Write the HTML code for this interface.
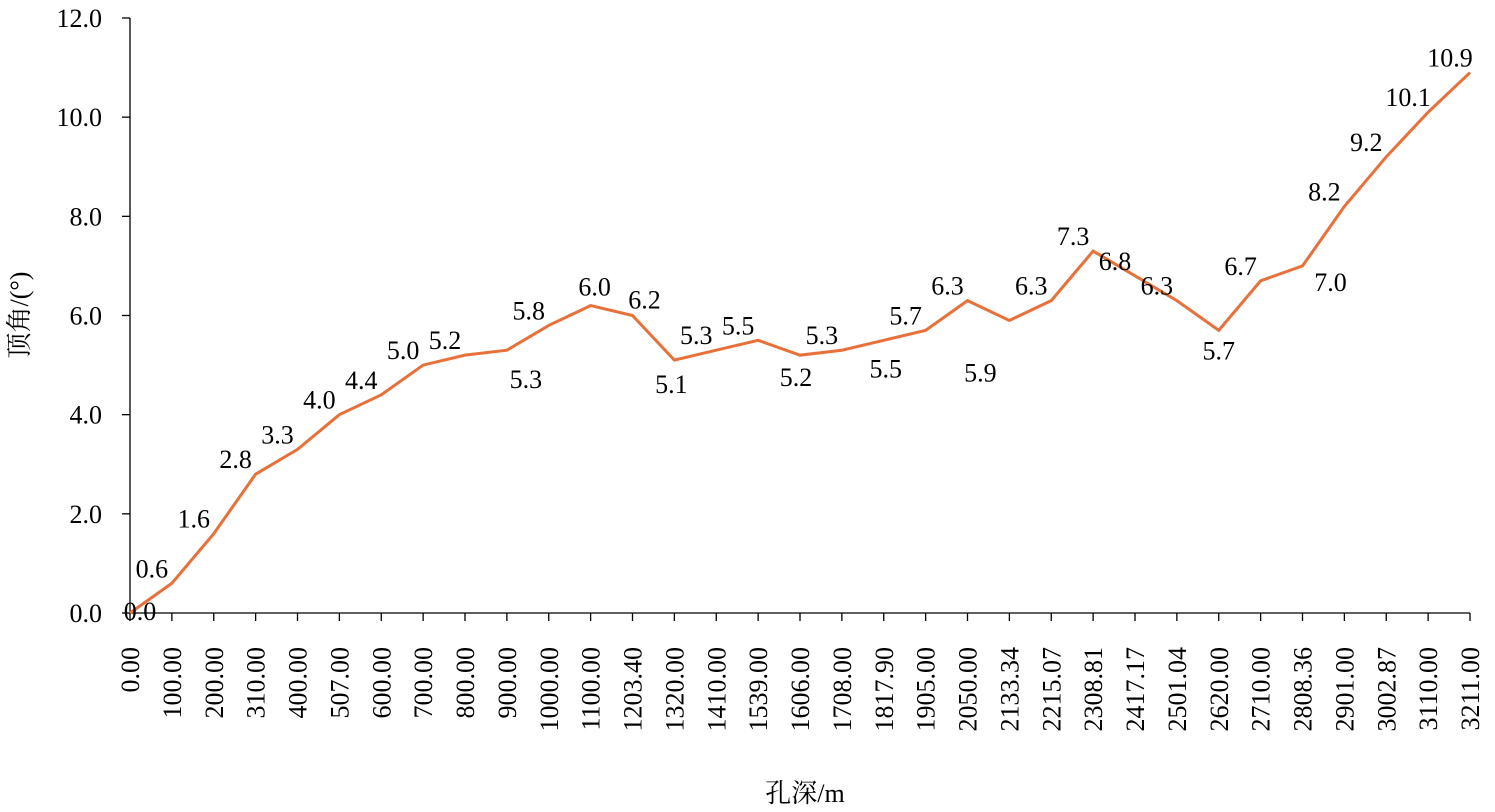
<!DOCTYPE html>
<html><head><meta charset="utf-8"><style>
body{margin:0;background:#fff}
svg{display:block;font-family:"Liberation Serif","Noto Serif CJK SC",serif}
</style></head><body>
<svg id="chart" width="1495" height="812" viewBox="0 0 1495 812">
<g id="axes"></g><g id="marks"></g>
<text x="805" y="802" font-size="26" text-anchor="middle" font-family="Liberation Serif, Noto Serif CJK SC, serif">孔深/m</text>
<text transform="translate(28,315) rotate(-90)" font-size="26" text-anchor="middle" font-family="Liberation Serif, Noto Serif CJK SC, serif">顶角/(°)</text>
</svg>
<script>
const categories=["0.00","100.00","200.00","310.00","400.00","507.00","600.00","700.00","800.00","900.00","1000.00","1100.00","1203.40","1320.00","1410.00","1539.00","1606.00","1708.00","1817.90","1905.00","2050.00","2133.34","2215.07","2308.81","2417.17","2501.04","2620.00","2710.00","2808.36","2901.00","3002.87","3110.00","3211.00"];
const values=[0,0.6,1.6,2.8,3.3,4.0,4.4,5.0,5.2,5.3,5.8,6.2,6.0,5.1,5.3,5.5,5.2,5.3,5.5,5.7,6.3,5.9,6.3,7.3,6.8,6.3,5.7,6.7,7.0,8.2,9.2,10.1,10.9];
const pointLabels=["0.0","0.6","1.6","2.8","3.3","4.0","4.4","5.0","5.2","5.3","5.8","6.0","6.2","5.1","5.3","5.5","5.2","5.3","5.5","5.7","6.3","5.9","6.3","7.3","6.8","6.3","5.7","6.7","7.0","8.2","9.2","10.1","10.9"];
const yTicks=["0.0","2.0","4.0","6.0","8.0","10.0","12.0"];
const NS="http://www.w3.org/2000/svg";
const x0=130,x1=1470,yB=613,yT=18,yMax=12;
const xS=i=>x0+i*(x1-x0)/(categories.length-1);
const yS=v=>yB-v*(yB-yT)/yMax;
function mk(t,a,p){const e=document.createElementNS(NS,t);for(const k in a)e.setAttribute(k,a[k]);p.appendChild(e);return e;}
const ax=document.getElementById('axes'),mg=document.getElementById('marks');
let e=mk('line',{x1:x0,y1:yB,x2:x0,y2:yT,stroke:'#000','stroke-width':1.3},ax);


e=mk('line',{x1:x0,y1:yB,x2:x1,y2:yB,stroke:'#000','stroke-width':1.3},ax);


yTicks.forEach(t=>{const v=parseFloat(t),y=yS(v);
 mk('line',{x1:x0-8,y1:y,x2:x0,y2:y,stroke:'#000','stroke-width':1.3},ax);
 const tx=mk('text',{x:x0-28,y:y+9,'font-size':26,'text-anchor':'end'},ax);tx.textContent=t;
 
 
});
categories.forEach((c,i)=>{const x=xS(i);
 mk('line',{x1:x,y1:yB,x2:x,y2:yB+8,stroke:'#000','stroke-width':1.3},ax);
 const tx=mk('text',{transform:`translate(${x+9},${yB+34}) rotate(-90)`,'font-size':26,'text-anchor':'end'},ax);tx.textContent=c;
 
 
});
const line=mk('polyline',{points:values.map((v,i)=>xS(i)+','+yS(v)).join(' '),fill:'none',stroke:'#e8703a','stroke-width':3},mg);


const below={9:[19,29],13:[-3,24],16:[-4,22],18:[2,28],21:[-29,52],26:[0,20],28:[28,16],0:[10,-2],11:[4,-19],12:[12,-16]};
pointLabels.forEach((l,i)=>{const o=below[i]||[-20,-15];
 const t=mk('text',{x:xS(i)+o[0],y:yS(values[i])+o[1]+9,'font-size':26,'text-anchor':'middle'},mg);t.textContent=l;
 
 
});
</script>
</body></html>
